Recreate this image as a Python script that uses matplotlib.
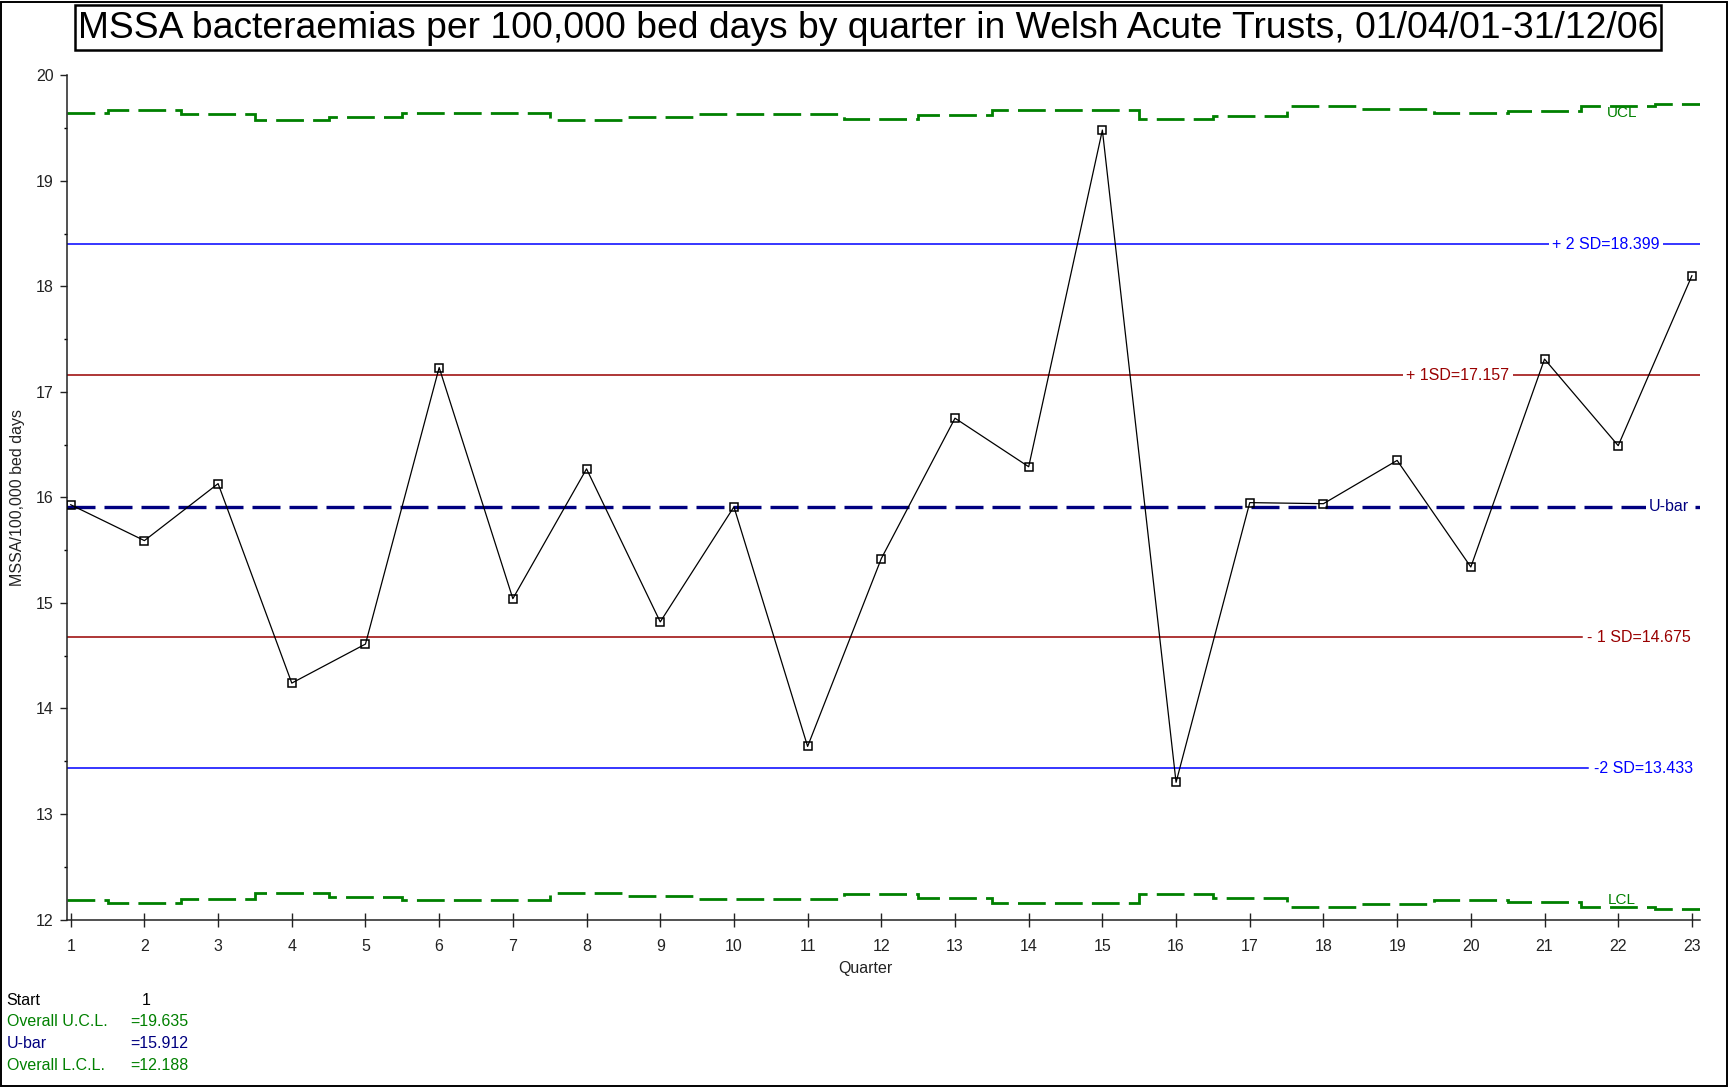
import numpy as np
import matplotlib
matplotlib.use("Agg")
import matplotlib.pyplot as plt
from matplotlib.patches import Rectangle
import matplotlib.transforms as mtransforms

plt.rcParams['font.family'] = ['Liberation Sans', 'DejaVu Sans']

# ---------------- data ----------------
quarters = list(range(1, 24))
rate = [15.93, 15.59, 16.13, 14.24, 14.61, 17.23, 15.04, 16.27, 14.82, 15.91, 13.64, 15.42,
        16.75, 16.29, 19.48, 13.30, 15.95, 15.94, 16.35, 15.34, 17.31, 16.49, 18.10]
ucl = [19.639, 19.670, 19.632, 19.575, 19.607, 19.639, 19.639, 19.575, 19.600, 19.632, 19.629, 19.585,
       19.620, 19.670, 19.670, 19.585, 19.616, 19.710, 19.677, 19.639, 19.660, 19.710, 19.727]
lcl = [12.185, 12.154, 12.192, 12.249, 12.217, 12.185, 12.185, 12.249, 12.224, 12.192, 12.195, 12.239,
       12.204, 12.154, 12.154, 12.239, 12.208, 12.114, 12.147, 12.185, 12.164, 12.114, 12.097]
ubar = 15.912
plus2sd = 18.399
plus1sd = 17.157
minus1sd = 14.675
minus2sd = 13.433
overall_ucl = 19.635
overall_lcl = 12.188
start = 1
yticks = [12, 13, 14, 15, 16, 17, 18, 19, 20]
title = "MSSA bacteraemias per 100,000 bed days by quarter in Welsh Acute Trusts, 01/04/01-31/12/06"

GREEN = '#008000'
NAVY = '#000080'
BLUE = '#0000FF'
DRED = '#990000'

W, H = 1733, 1091
fig = plt.figure(figsize=(W / 100, H / 100), dpi=100)
fig.patch.set_facecolor('white')

ax = fig.add_axes([67.4 / W, 1 - 919.5 / H, (1700 - 67.4) / W, (919.5 - 75.2) / H])
xlim = (0.955, 23.11)
ax.set_xlim(*xlim)
ax.set_ylim(12, 20)

for s in ['top', 'right']:
    ax.spines[s].set_visible(False)
for s in ['left', 'bottom']:
    ax.spines[s].set_linewidth(1.1)
    ax.spines[s].set_color('#222222')

q = np.array(quarters, dtype=float)
edges = np.concatenate([[xlim[0]], q[:-1] + 0.5, [xlim[1]]])

# control limits (step lines)
ax.stairs(ucl, edges, baseline=None, color=GREEN, linewidth=2.0,
          linestyle=(0, (10, 3.3)), zorder=2)
ax.stairs(lcl, edges, baseline=None, color=GREEN, linewidth=2.0,
          linestyle=(0, (10, 3.3)), zorder=2)

# SD lines
ax.axhline(plus2sd, color=BLUE, linewidth=1.1, zorder=1)
ax.axhline(plus1sd, color=DRED, linewidth=1.1, zorder=1)
ax.axhline(minus1sd, xmax=0.9275, color=DRED, linewidth=1.1, zorder=1)
ax.axhline(minus2sd, xmax=0.9314, color=BLUE, linewidth=1.1, zorder=1)
ax.axhline(ubar, color=NAVY, linewidth=2.4, linestyle=(0, (8.4, 2.7)), zorder=2)

# data
ax.plot(q, rate, color='black', linewidth=0.9, marker='s', markersize=6.2,
        markerfacecolor='none', markeredgecolor='black', markeredgewidth=1.1, zorder=4)

tr = mtransforms.blended_transform_factory(ax.transAxes, ax.transData)
bb = dict(facecolor='white', edgecolor='none', pad=2.5)
fs = 11.5
ax.text(0.9424, plus2sd, "+ 2 SD=%.3f" % plus2sd, transform=tr, color=BLUE, fontsize=fs,
        ha='center', va='center', bbox=bb, zorder=3)
ax.text(0.8515, plus1sd, "+ 1SD=%.3f" % plus1sd, transform=tr, color=DRED, fontsize=fs,
        ha='center', va='center', bbox=bb, zorder=3)
ax.text(0.9306, minus1sd, "- 1 SD=%.3f" % minus1sd, transform=tr, color=DRED, fontsize=fs,
        ha='left', va='center', zorder=3)
ax.text(0.9350, minus2sd, "-2 SD=%.3f" % minus2sd, transform=tr, color=BLUE, fontsize=fs,
        ha='left', va='center', zorder=3)
ax.text(0.9688, ubar, "U-bar", transform=tr, color=NAVY, fontsize=fs,
        ha='left', va='center', bbox=bb, zorder=3)
ax.text(0.952, ucl[21], "UCL", transform=tr, color=GREEN, fontsize=11,
        ha='center', va='top', zorder=3)
ax.text(0.952, lcl[21], "LCL", transform=tr, color=GREEN, fontsize=11,
        ha='center', va='bottom', zorder=3)

# ticks
ax.set_xticks(quarters)
ax.set_xticklabels([str(v) for v in quarters])
ax.set_yticks(yticks)
ax.set_yticklabels([str(v) for v in yticks])
ax.set_yticks(np.arange(12.5, 20, 1.0), minor=True)
ax.tick_params(axis='x', direction='inout', length=9.6, width=1.0, pad=8.9,
               labelsize=11.5, colors='#222222')
ax.tick_params(axis='y', which='major', direction='out', length=5, width=1.0, pad=5,
               labelsize=11.5, colors='#222222')
ax.tick_params(axis='y', which='minor', direction='out', length=2.5, width=1.0)

fig.text(17.5 / W, 1 - 498 / H, "MSSA/100,000 bed days", rotation=90, fontsize=11.5,
         ha='center', va='center', color='#222222')
fig.text(865 / W, 1 - 968 / H, "Quarter", fontsize=11.5, ha='center', va='center', color='#222222')

# title with box
t = fig.text(868 / W, 1 - 28 / H, title, fontsize=28, ha='center', va='center', color='black')
fig.canvas.draw()
wpx = t.get_window_extent(renderer=fig.canvas.get_renderer()).width
t.set_fontsize(28 * 1576 / wpx)
fig.add_artist(Rectangle((75 / W, 1 - 49.7 / H), (1661 - 75) / W, (49.7 - 5.5) / H,
                         transform=fig.transFigure, fill=False, edgecolor='black', linewidth=1.8))

# outer border
fig.add_artist(Rectangle((1.5 / W, 1 - 1086 / H), (1727 - 1.5) / W, (1086 - 1.5) / H,
                         transform=fig.transFigure, fill=False, edgecolor='black', linewidth=1.4))

# bottom-left summary
bfs = 11.5
fig.text(6.6 / W, 1 - 1000.5 / H, "Start", fontsize=bfs, color='black', va='center')
fig.text(142 / W, 1 - 1000.5 / H, str(start), fontsize=bfs, color='black', va='center')
fig.text(6.6 / W, 1 - 1022 / H, "Overall U.C.L.", fontsize=bfs, color=GREEN, va='center')
fig.text(130.5 / W, 1 - 1022 / H, "=%.3f" % overall_ucl, fontsize=bfs, color=GREEN, va='center')
fig.text(6.6 / W, 1 - 1044 / H, "U-bar", fontsize=bfs, color=NAVY, va='center')
fig.text(130.5 / W, 1 - 1044 / H, "=%.3f" % ubar, fontsize=bfs, color=NAVY, va='center')
fig.text(6.6 / W, 1 - 1066 / H, "Overall L.C.L.", fontsize=bfs, color=GREEN, va='center')
fig.text(130.5 / W, 1 - 1066 / H, "=%.3f" % overall_lcl, fontsize=bfs, color=GREEN, va='center')

fig.savefig("out.png", dpi=100, facecolor='white')
